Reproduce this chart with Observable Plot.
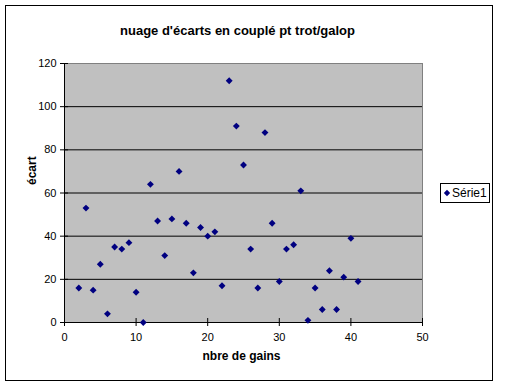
<!DOCTYPE html>
<html><head><meta charset="utf-8">
<script src="https://cdn.jsdelivr.net/npm/d3@7"></script>
<script src="https://cdn.jsdelivr.net/npm/@observablehq/plot@0.6"></script>
<style>body{margin:0;background:#fff} svg{display:block}</style>
</head><body><div id="chart"></div>
<script>
const gains = [2,3,4,5,6,7,8,9,10,11,12,13,14,15,16,17,18,19,20,21,22,23,24,25,26,27,28,29,30,31,32,33,34,35,36,37,38,39,40,41];
const ecarts = [16,53,15,27,4,35,34,37,14,0,64,47,31,48,70,46,23,44,40,42,17,112,91,73,34,16,88,46,19,34,36,61,1,16,6,24,6,21,39,19];
const yTicks = [0,20,40,60,80,100,120];
const yGrid = [20,40,60,80,100];
const xTicks = [0,10,20,30,40,50];
const title = "nuage d'écarts en couplé pt trot/galop";
const xLabel = "nbre de gains";
const yLabel = "écart";
const seriesName = "Série1";

const data = gains.map((g, i) => ({gains: g, ecart: ecarts[i]}));
const font = "Arial, 'Liberation Sans', sans-serif";
const navy = "#000080";

const plot = Plot.plot({
  width: 512, height: 387,
  marginLeft: 64, marginRight: 90, marginTop: 63, marginBottom: 65,
  style: {fontFamily: font, fontSize: "11px", background: "#fff", color: "#000"},
  x: {domain: [0, 50]},
  y: {domain: [0, 120]},
  marks: [
    Plot.frame({fill: "#c0c0c0", stroke: "#808080"}),
    Plot.gridY(yGrid, {stroke: "#000", strokeOpacity: 1}),
    Plot.ruleX([0], {stroke: "#000"}),
    Plot.ruleY([0], {stroke: "#000"}),
    Plot.axisY(yTicks, {tickSize: 8, dx: 4, tickPadding: 4, label: null, stroke: "#000", fill: "#000"}),
    Plot.axisX(xTicks, {tickSize: 8, dy: -4, tickPadding: 7, label: null, stroke: "#000", fill: "#000"}),
    Plot.dot(data, {x: "gains", y: "ecart", symbol: "diamond2", r: 3.1, fill: navy, stroke: "none"}),
    Plot.text([title], {frameAnchor: "top", dx: -6, dy: -38, fontWeight: "bold", fontSize: 13, fill: "#000"}),
    Plot.text([xLabel], {frameAnchor: "bottom", dx: -2, dy: 37, fontWeight: "bold", fontSize: 12, fill: "#000"}),
    Plot.text([yLabel], {frameAnchor: "left", dx: -32, dy: -8, rotate: -90, fontWeight: "bold", fontSize: 12, fill: "#000"})
  ]
});

const svg = d3.select(plot);
svg.append("rect").attr("x", 5.5).attr("y", 5.5).attr("width", 487).attr("height", 375)
  .attr("fill", "none").attr("stroke", "#000");
const lg = svg.append("g");
lg.append("rect").attr("x", 440.5).attr("y", 183.5).attr("width", 49).attr("height", 19)
  .attr("fill", "#fff").attr("stroke", "#000");
lg.append("path").attr("d", d3.symbol(d3.symbolDiamond2, 26)()).attr("transform", "translate(447,193)").attr("fill", navy);
lg.append("text").attr("x", 452).attr("y", 197).attr("text-anchor", "start")
  .attr("font-size", 12).attr("font-family", font).attr("fill", "#000").text(seriesName);

document.getElementById("chart").appendChild(plot);
</script>
</body></html>
